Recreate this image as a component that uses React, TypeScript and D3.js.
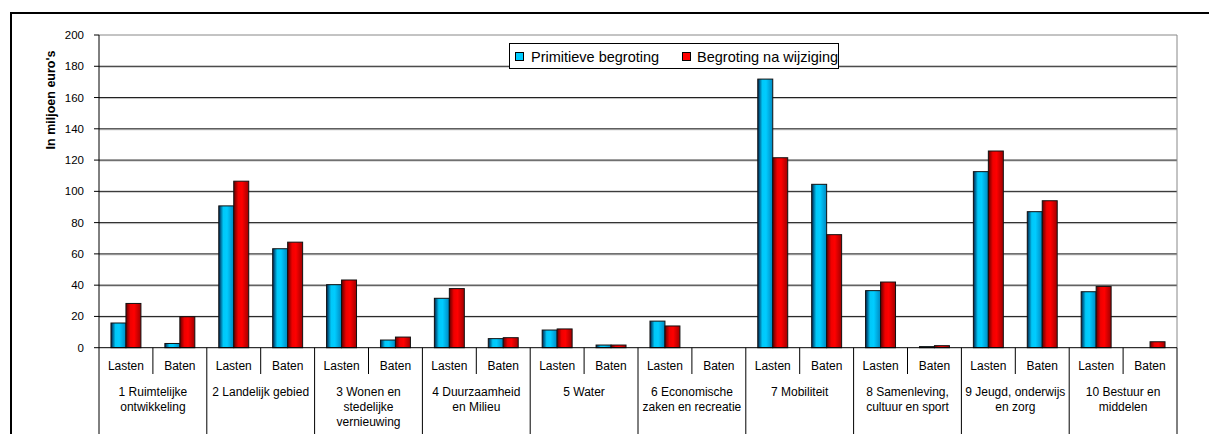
import React from 'react'
import * as d3 from 'd3'

const groups = [
  ['1 Ruimtelijke', 'ontwikkeling'],
  ['2 Landelijk gebied'],
  ['3 Wonen en', 'stedelijke', 'vernieuwing'],
  ['4 Duurzaamheid', 'en Milieu'],
  ['5 Water'],
  ['6 Economische', 'zaken en recreatie'],
  ['7 Mobiliteit'],
  ['8 Samenleving,', 'cultuur en sport'],
  ['9 Jeugd, onderwijs', 'en zorg'],
  ['10 Bestuur en', 'middelen'],
]
const subLabels = ['Lasten', 'Baten']
const seriesNames = ['Primitieve begroting', 'Begroting na wijziging']

// per group: [Lasten, Baten]
const primitief = [
  [15.8, 2.7], [90.7, 63.3], [40.3, 4.9], [31.6, 5.8], [11.3, 1.7],
  [17, 0], [171.8, 104.5], [36.5, 0.7], [112.6, 87], [35.8, 0],
]
const gewijzigd = [
  [28.3, 19.8], [106.5, 67.5], [43.3, 6.8], [37.8, 6.4], [12, 1.7],
  [13.9, 0], [121.5, 72.3], [42, 1.3], [125.8, 94], [39.2, 3.8],
]
const yTicks = [0, 20, 40, 60, 80, 100, 120, 140, 160, 180, 200]

const W = 1209
const H = 434
const left = 99
const right = 1177
const top = 35
const bottom = 347.7

const FONT = "'Liberation Sans', Arial, sans-serif"

const App = () => {
  const cats = groups.flatMap((_, gi) => subLabels.map((_, si) => `${gi}-${si}`))
  const x = d3.scaleBand().domain(cats).range([left, right]).padding(0)
  const xs = d3.scaleBand().domain(seriesNames).range([0, x.bandwidth()]).paddingInner(0).paddingOuter(0.8)
  const y = d3.scaleLinear().domain([0, 200]).range([bottom, top])

  const values = [primitief, gewijzigd]
  const fills = ['url(#gBlue)', 'url(#gRed)']

  return (
    <svg width={W} height={H} style={{ position: 'absolute', left: 0, top: 0 }} fontFamily={FONT}>
      <defs>
        <linearGradient id="gBlue" x1="0" x2="1" y1="0" y2="0">
          <stop offset="0" stopColor="#00204a" />
          <stop offset="0.3" stopColor="#00c8f8" />
          <stop offset="0.55" stopColor="#00ccff" />
          <stop offset="1" stopColor="#0088c0" />
        </linearGradient>
        <linearGradient id="gRed" x1="0" x2="1" y1="0" y2="0">
          <stop offset="0" stopColor="#600000" />
          <stop offset="0.3" stopColor="#f00000" />
          <stop offset="0.55" stopColor="#ff0000" />
          <stop offset="1" stopColor="#a00000" />
        </linearGradient>
      </defs>
      <rect x={0} y={0} width={W} height={H} fill="#fff" />
      <rect x={11} y={13} width={W + 20} height={H + 20} fill="none" stroke="#000" strokeWidth={2} />

      {/* grid */}
      {yTicks.filter((t) => t > 0 && t < 200).map((t) => (
        <g key={t}>
          <line x1={left} x2={right} y1={y(t) + 1} y2={y(t) + 1} stroke="#c8c8c8" />
          <line x1={left} x2={right} y1={y(t)} y2={y(t)} stroke="#1a1a1a" />
        </g>
      ))}
      <line x1={left} x2={right} y1={top} y2={top} stroke="#888" />
      <line x1={right} x2={right} y1={top} y2={bottom} stroke="#888" />

      {/* bars */}
      {groups.map((_, gi) =>
        subLabels.map((_, si) =>
          seriesNames.map((s, k) => {
            const v = values[k][gi][si]
            if (v <= 0) return null
            const bx = (x(`${gi}-${si}`) as number) + (xs(s) as number)
            return (
              <rect key={`${gi}-${si}-${k}`} x={bx} y={y(v)} width={xs.bandwidth()} height={y(0) - y(v)}
                fill={fills[k]} stroke="#111" strokeWidth={1} />
            )
          })
        )
      )}

      {/* y axis */}
      <line x1={left} x2={left} y1={top} y2={bottom} stroke="#000" />
      {yTicks.map((t) => (
        <g key={t}>
          <line x1={left - 5} x2={left} y1={y(t)} y2={y(t)} stroke="#000" />
          <text x={84} y={y(t) + 4} textAnchor="end" fontSize={11.5} fill="#000">{t}</text>
        </g>
      ))}
      <text transform={`translate(55,100) rotate(-90)`} textAnchor="middle" fontSize={12.5} fontWeight="bold">In miljoen euro's</text>

      {/* x axis */}
      <line x1={left} x2={right} y1={bottom} y2={bottom} stroke="#000" />
      {cats.map((c, i) => {
        const cx = (x(c) as number) + x.bandwidth() / 2
        return (
          <text key={c} x={cx} y={370} textAnchor="middle" fontSize={12}>{subLabels[i % 2]}</text>
        )
      })}
      {groups.map((lines, gi) => {
        const gx = x(`${gi}-0`) as number
        const mid = x(`${gi}-1`) as number
        const cx = mid
        return (
          <g key={gi}>
            <line x1={gx} x2={gx} y1={bottom} y2={H} stroke="#000" />
            <line x1={mid} x2={mid} y1={bottom} y2={374} stroke="#000" />
            {lines.map((l, li) => (
              <text key={li} x={cx} y={396 + li * 15} textAnchor="middle" fontSize={12}>{l}</text>
            ))}
          </g>
        )
      })}
      <line x1={right} x2={right} y1={bottom} y2={H} stroke="#000" />

      {/* legend */}
      <rect x={509.5} y={43.5} width={329} height={25} fill="#fff" stroke="#000" />
      <rect x={515.5} y={52.5} width={8} height={8} fill="#00ccff" stroke="#000" />
      <text x={531} y={61.5} fontSize={14.5}>{seriesNames[0]}</text>
      <rect x={682.5} y={52.5} width={8} height={8} fill="#ff0000" stroke="#000" />
      <text x={697} y={61.5} fontSize={14.5}>{seriesNames[1]}</text>
    </svg>
  )
}

export default App
